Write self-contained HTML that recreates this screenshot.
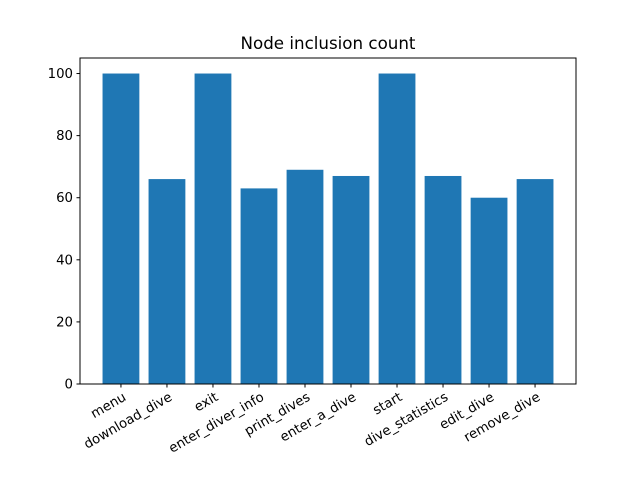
<!DOCTYPE html>
<html><head><meta charset="utf-8"><style>body{margin:0;background:#fff}svg{display:block;font-family:"DejaVu Sans","Liberation Sans",sans-serif}</style></head>
<body>
<svg id="chart" width="640" height="480">
<rect width="640" height="480" fill="#fff"/>
<text x="328" y="49" font-size="16.7" text-anchor="middle">Node inclusion count</text>
<g id="bars"></g><g id="yticks"></g><g id="xticks"></g>
<rect x="80" y="58" width="496" height="326" fill="none" stroke="#000" stroke-width="1"/>
</svg>
<script>
const categories = ["menu","download_dive","exit","enter_diver_info","print_dives","enter_a_dive","start","dive_statistics","edit_dive","remove_dive"];
const values = [100,66,100,63,69,67,100,67,60,66];
const yTicks = [0,20,40,60,80,100];
const L=80,R=576,T=58,B=384;
const yMax=Math.max(...values)*1.05;
const xMin=-0.89,xMax=categories.length-1+0.89;
const sx=v=>L+(v-xMin)/(xMax-xMin)*(R-L);
const sy=v=>B-v/yMax*(B-T);
const NS="http://www.w3.org/2000/svg";
const mk=(t,a,p)=>{const e=document.createElementNS(NS,t);for(const k in a)e.setAttribute(k,a[k]);p.appendChild(e);return e;};
const bars=document.getElementById('bars'),yt=document.getElementById('yticks'),xt=document.getElementById('xticks');
values.forEach((v,i)=>{
  const w=sx(0.4)-sx(0);
  const r=mk('rect',{x:sx(i)-w,y:sy(v),width:2*w,height:B-sy(v),fill:'#1f77b4'},bars);
  
  
});
yTicks.forEach(t=>{
  const y=sy(t);
  const l=mk('line',{x1:L-3.5,x2:L,y1:y,y2:y,stroke:'#000'},yt);
  
  
  const tx=mk('text',{x:L-7,y:y+4.5,'font-size':13.3,'text-anchor':'end'},yt);
  tx.textContent=t;
  
  
});
categories.forEach((c,i)=>{
  const x=sx(i);
  const l=mk('line',{x1:x,x2:x,y1:B,y2:B+3.5,stroke:'#000'},xt);
  
  
  const tx=mk('text',{x:x+4,y:B+16,'font-size':13.3,'text-anchor':'end',transform:`rotate(-30 ${x+4} ${B+12})`},xt);
  tx.textContent=c;
  
  
});
</script>
</body></html>
